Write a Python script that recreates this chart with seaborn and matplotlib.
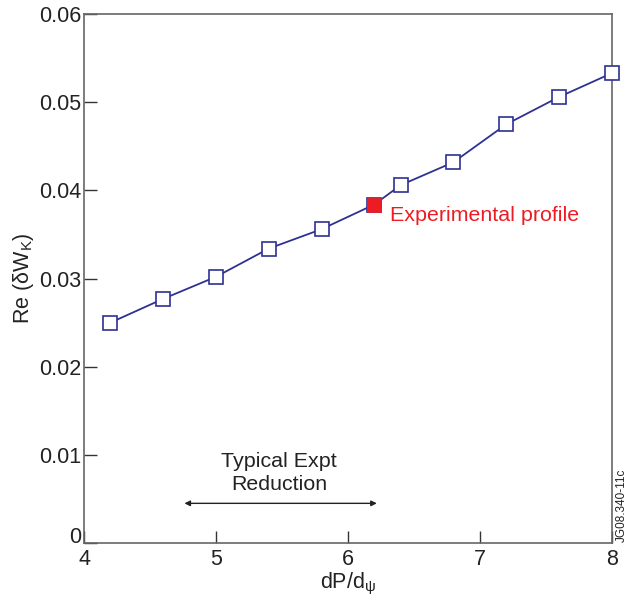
import matplotlib
matplotlib.use("Agg")
import matplotlib.pyplot as plt
import seaborn as sns
import pandas as pd

x_vals = [4.2, 4.6, 5.0, 5.4, 5.8, 6.2, 6.4, 6.8, 7.2, 7.6, 8.0]
y_vals = [0.0250, 0.0277, 0.0302, 0.0334, 0.0356, 0.0384, 0.0406, 0.0432, 0.0475, 0.0506, 0.0533]
exp_x = [6.2]
exp_y = [0.0384]
x_ticks = [4, 5, 6, 7, 8]
y_ticks = [0, 0.01, 0.02, 0.03, 0.04, 0.05, 0.06]
y_tick_labels = ["0", "0.01", "0.02", "0.03", "0.04", "0.05", "0.06"]

sns.set_style("white")
plt.rcParams['font.family'] = ['Liberation Sans', 'DejaVu Sans']
plt.rcParams['mathtext.fontset'] = 'custom'
plt.rcParams['mathtext.rm'] = 'Liberation Sans'
plt.rcParams['mathtext.it'] = 'Liberation Sans'
plt.rcParams['mathtext.default'] = 'regular'

df = pd.DataFrame({"x": x_vals, "y": y_vals})
dfe = pd.DataFrame({"x": exp_x, "y": exp_y})

fig = plt.figure(figsize=(6.34, 6.01), dpi=100)
ax = fig.add_axes([0.1325, 0.0965, 0.8325, 0.88])

blue = "#2e3192"
sns.lineplot(data=df, x="x", y="y", ax=ax, color=blue, lw=1.3, marker="s",
             markersize=10, markerfacecolor="white", markeredgecolor=blue,
             markeredgewidth=1.2, clip_on=False, zorder=4)
sns.scatterplot(data=dfe, x="x", y="y", ax=ax, marker="s", s=95, color="#ed1c24",
                edgecolor="#ed1c24", linewidth=0.5, zorder=5)

ax.set_xlim(4, 8)
ax.set_ylim(0, 0.06)
ax.set_xticks(x_ticks)
ax.set_yticks(y_ticks)
ax.set_yticklabels(y_tick_labels)
ax.tick_params(direction="in", length=9, width=1, colors="#333333", labelsize=15.5,
               labelcolor="#222222", bottom=True, left=True, top=False, right=False)
ax.tick_params(axis="x", pad=4)
ax.tick_params(axis="y", pad=2)
ax.get_yticklabels()[0].set_verticalalignment("baseline")
for sp in ax.spines.values():
    sp.set_color("#666666")
    sp.set_linewidth(1.2)

ax.set_xlabel("dP/d$_{\\psi}$", fontsize=15.5, color="#222222", labelpad=1)
ax.set_ylabel("Re (δW$_K$)", fontsize=15.5, color="#222222", labelpad=2)

ax.text(6.32, 0.0372, "Experimental profile", color="#ed1c24", fontsize=15.4,
        ha="left", va="center")
ax.text(5.48, 0.0079, "Typical Expt\nReduction", color="#222222", fontsize=15.4,
        ha="center", va="center", linespacing=1.25)
ax.annotate("", xy=(4.74, 0.0045), xytext=(6.24, 0.0045),
            arrowprops=dict(arrowstyle="<|-|>", color="#222222", lw=1,
                            mutation_scale=8))
fig.text(0.981, 0.16, "JG08.340-11c", rotation=90, fontsize=8.5, color="#222222",
         ha="center", va="center")

fig.savefig("out.png", dpi=100)
